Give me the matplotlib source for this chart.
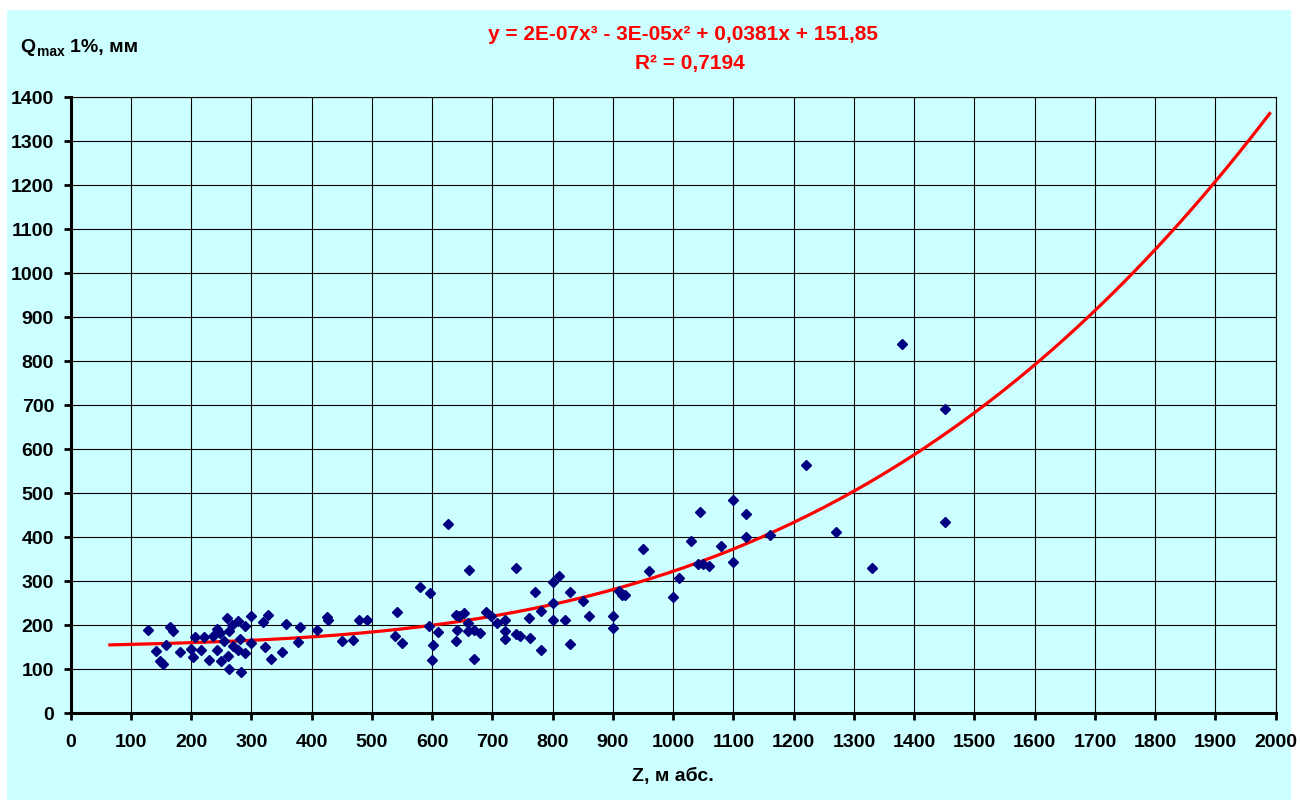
import numpy as np
import matplotlib.pyplot as plt
from matplotlib.patches import Rectangle

# Z, m abs. / Qmax 1%, mm
z = [129, 142, 149, 154, 158, 165, 169, 182, 199, 203, 206, 217, 221, 229,
     236, 243, 247, 243, 250, 255, 259, 263, 261, 262, 268, 277, 269, 278,
     281, 282, 289, 289, 299, 300, 319, 327, 322, 333, 351, 357, 377, 381,
     409, 425, 427, 451, 469, 479, 491, 542, 538, 550, 580, 596, 595, 610,
     601, 600, 626, 639, 652, 645, 641, 639, 660, 660, 661, 669, 679, 669,
     689, 698, 707, 720, 720, 720, 739, 739, 746, 760, 762, 770, 780, 780,
     800, 810, 800, 800, 820, 829, 829, 850, 860, 900, 900, 910, 915, 920,
     950, 960, 999, 1010, 1029, 1041, 1050, 1060, 1044, 1080, 1100, 1100,
     1121, 1121, 1161, 1220, 1270, 1330, 1380, 1451, 1451]
q = [189, 141, 120, 113, 156, 196, 186, 139, 146, 128, 173, 145, 173, 122,
     175, 192, 183, 145, 118, 165, 217, 101, 130, 188, 200, 210, 152, 145,
     169, 95, 198, 136, 222, 160, 207, 223, 150, 124, 139, 202, 161, 196,
     189, 218, 213, 165, 167, 212, 213, 231, 176, 160, 286, 273, 198, 185,
     156, 121, 430, 224, 228, 222, 190, 165, 205, 186, 326, 190, 182, 124,
     230, 221, 205, 213, 188, 168, 331, 181, 176, 217, 172, 275, 232, 145,
     298, 311, 251, 213, 213, 276, 158, 255, 221, 222, 194, 278, 270, 268,
     373, 324, 264, 308, 392, 339, 339, 334, 457, 381, 345, 484,
     454, 400, 405, 564, 411, 330, 840, 692, 435]

eq_text = "y = 2E-07x³ - 3E-05x² + 0,0381x + 151,85"
r2_text = "R² = 0,7194"
x_label = "Z, м абс."

plt.rcParams['font.family'] = ['Liberation Sans', 'DejaVu Sans']
plt.rcParams['font.weight'] = 'bold'

fig = plt.figure(figsize=(13, 8.01), dpi=100, facecolor='white')
fig.patches.append(Rectangle((7 / 1300, 1 - 800 / 801), 1284 / 1300, 790 / 801,
                             transform=fig.transFigure, facecolor='#CCFFFF',
                             edgecolor='none', zorder=-10))

ax = fig.add_axes([70.7 / 1300, 1 - 713.3 / 801, 1205 / 1300, 616 / 801])
ax.set_facecolor('#CCFFFF')

# polynomial trendline, order 3, with forecast both ways
coef = np.polyfit(z, q, 3)
xs = np.linspace(65, 1990, 300)
ax.plot(xs, np.polyval(coef, xs), color='red', lw=2.3, zorder=3)
ax.plot(z, q, 'D', color='#000080', ms=5, mec='#000080', zorder=4, ls='none')

ax.set_xlim(0, 2000)
ax.set_ylim(0, 1400)
ax.set_xticks(np.arange(0, 2001, 100))
ax.set_yticks(np.arange(0, 1401, 100))
ax.grid(True, color='black', lw=0.8)
ax.set_axisbelow(True)
ax.tick_params(direction='out', length=5, width=2, labelsize=14, pad=7)
ax.tick_params(axis='x', pad=10)
for s in ['left', 'bottom']:
    ax.spines[s].set_linewidth(2.2)
for s in ['top', 'right']:
    ax.spines[s].set_linewidth(0.8)

ax.set_xlabel(x_label, fontsize=14, fontweight='bold', labelpad=12)

fig.text(683 / 1300, 1 - 35 / 801, eq_text, color='red', fontsize=15,
         fontweight='bold', ha='center', va='center')
fig.text(690 / 1300, 1 - 63 / 801, r2_text, color='red', fontsize=15,
         fontweight='bold', ha='center', va='center')

fig.text(20 / 1300, 1 - 52 / 801, "Q", fontsize=14, fontweight='bold',
         ha='left', va='baseline')
fig.text(37 / 1300, 1 - 56 / 801, "max", fontsize=10, fontweight='bold',
         ha='left', va='baseline')
fig.text(70 / 1300, 1 - 52 / 801, "1%, мм", fontsize=14, fontweight='bold',
         ha='left', va='baseline')

plt.savefig("out.png", dpi=100, facecolor='white')
